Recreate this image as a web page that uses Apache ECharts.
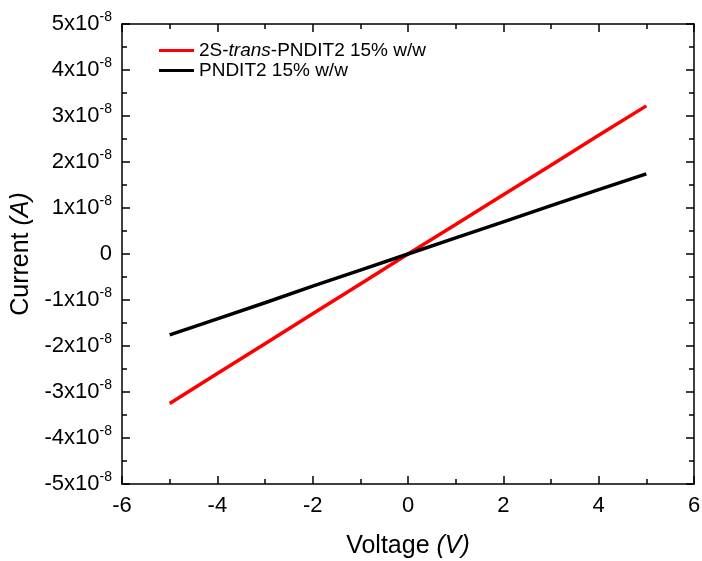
<!DOCTYPE html>
<html><head><meta charset="utf-8">
<script src="https://cdn.jsdelivr.net/npm/echarts@6/dist/echarts.min.js"></script>
<style>html,body{margin:0;padding:0;background:#fff}#c{width:702px;height:561px}</style>
</head><body><div id="c"></div>
<script>
var voltage = [-5, -4, -3, -2, -1, 0, 1, 2, 3, 4, 5];
var current2S = [-3.25, -2.60, -1.95, -1.30, -0.65, 0, 0.64, 1.29, 1.93, 2.58, 3.22];
var currentPNDIT2 = [-1.76, -1.41, -1.06, -0.70, -0.35, 0, 0.35, 0.70, 1.05, 1.40, 1.74];
var seriesNames = ['2S-trans-PNDIT2 15% w/w', 'PNDIT2 15% w/w'];
var yTicks = [-5, -4, -3, -2, -1, 0, 1, 2, 3, 4, 5];
var scale = 1e-8;

function pairs(ys){ return voltage.map(function(v,i){ return [v, ys[i]*scale]; }); }
var font = 'Liberation Sans, Arial, sans-serif';
var chart = echarts.init(document.getElementById('c'));
var axisLineStyle = {color:'#000', width:1.5};
var tickStyle = {color:'#000', width:1.5};
chart.setOption({
  animation:false,
  grid:{left:122, top:24, right:8, bottom:77, containLabel:false, outerBoundsMode:'none'},
  legend:{
    left:154, top:36, orient:'vertical', itemWidth:35, itemHeight:3, itemGap:1,
    icon:'rect',
    data: seriesNames,
    formatter:function(n){ return n === seriesNames[0] ? '{n|2S-}{i|trans}{n|-PNDIT2 15% w/w}' : '{n|' + n + '}'; },
    textStyle:{fontFamily:font, fontSize:19, color:'#000',
      rich:{n:{fontFamily:font,fontSize:19,color:'#000'}, i:{fontFamily:font,fontSize:19,fontStyle:'italic',color:'#000'}}}
  },
  xAxis:[{
    type:'value', min:-6, max:6, interval:2,
    name:'{n|Voltage }{i|(V)}', nameLocation:'middle', nameGap:50,
    nameTextStyle:{rich:{n:{fontFamily:font,fontSize:25,color:'#000'}, i:{fontFamily:font,fontSize:25,fontStyle:'italic',color:'#000'}}},
    axisLine:{onZero:false, lineStyle:axisLineStyle},
    axisTick:{inside:true, length:8, lineStyle:tickStyle},
    minorTick:{show:true, splitNumber:2, length:5, lineStyle:tickStyle},
    axisLabel:{fontFamily:font, fontSize:22, color:'#000', margin:11},
    splitLine:{show:false}
  },{
    type:'value', min:-6, max:6, interval:2, position:'top',
    axisLine:{onZero:false, lineStyle:axisLineStyle},
    axisTick:{inside:true, length:8, lineStyle:tickStyle},
    minorTick:{show:true, splitNumber:2, length:5, lineStyle:tickStyle},
    axisLabel:{show:false}, splitLine:{show:false}
  }],
  yAxis:[{
    type:'value', min:yTicks[0]*scale, max:yTicks[yTicks.length-1]*scale, interval:scale,
    name:'{n|Current }{i|(A)}', nameLocation:'middle', nameGap:86,
    nameTextStyle:{rich:{n:{fontFamily:font,fontSize:25,color:'#000'}, i:{fontFamily:font,fontSize:25,fontStyle:'italic',color:'#000'}}},
    axisLine:{onZero:false, lineStyle:axisLineStyle},
    axisTick:{inside:true, length:8, lineStyle:tickStyle},
    minorTick:{show:true, splitNumber:2, length:5, lineStyle:tickStyle},
    axisLabel:{margin:10, formatter:function(v){
      var k = Math.round(v/scale);
      if (k === 0) return '{b|0}';
      return '{b|' + k + 'x10}{s|-8}';
    }, rich:{b:{fontFamily:font,fontSize:22,color:'#000'}, s:{fontFamily:font,fontSize:14,color:'#000',verticalAlign:'bottom',padding:[0,0,14,0]}}},
    splitLine:{show:false}
  },{
    type:'value', min:yTicks[0]*scale, max:yTicks[yTicks.length-1]*scale, interval:scale, position:'right',
    axisLine:{onZero:false, lineStyle:axisLineStyle},
    axisTick:{inside:true, length:8, lineStyle:tickStyle},
    minorTick:{show:true, splitNumber:2, length:5, lineStyle:tickStyle},
    axisLabel:{show:false}, splitLine:{show:false}
  }],
  series:[
    {name:seriesNames[0], type:'line', data:pairs(current2S), showSymbol:false, color:'#ff0000', lineStyle:{width:3.5, color:'#ff0000'}},
    {name:seriesNames[1], type:'line', data:pairs(currentPNDIT2), showSymbol:false, color:'#000000', lineStyle:{width:3.5, color:'#000000'}}
  ]
});
</script></body></html>
